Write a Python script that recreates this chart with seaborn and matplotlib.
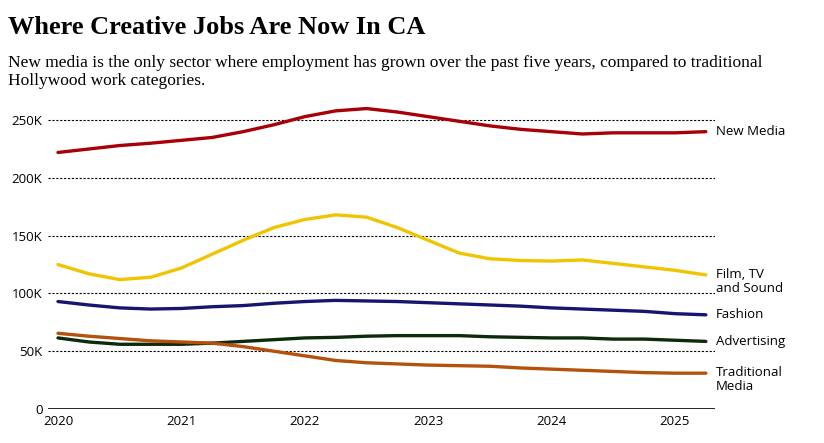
import numpy as np
import pandas as pd
import matplotlib
matplotlib.use('Agg')
import matplotlib.pyplot as plt
import seaborn as sns

# quarterly points, 2020 Q1 .. 2025 Q2
quarters = [2020 + i * 0.25 for i in range(22)]

new_media = [222, 225, 228, 230, 232.5, 235, 240, 246, 253, 258, 260, 257,
             253, 249, 245, 242, 240, 238, 239, 239, 239, 240]
film_tv = [125, 117, 112, 114, 122, 134, 146, 157, 164, 168, 166, 157,
           146, 135, 130, 128.5, 128, 129, 126, 123, 120, 116]
fashion = [93, 90, 87.5, 86.5, 87, 88.5, 89.5, 91.5, 93, 94, 93.5, 93,
           92, 91, 90, 89, 87.5, 86.5, 85.5, 84.5, 82.5, 81.5]
advertising = [61.5, 58, 56, 56, 56, 57, 58.5, 60, 61.5, 62, 63, 63.5,
               63.5, 63.5, 62.5, 62, 61.5, 61.5, 60.5, 60.5, 59.5, 58.5]
traditional = [65.5, 63, 61, 59, 58, 57, 54, 50, 46, 42, 40, 39,
               38, 37.5, 37, 35.5, 34.5, 33.5, 32.5, 31.5, 31, 31]

series_names = ['New Media', 'Film, TV\nand Sound', 'Fashion', 'Advertising', 'Traditional\nMedia']
series_values = [new_media, film_tv, fashion, advertising, traditional]
colors = ['#a80008', '#f0c400', '#17166e', '#0c2a0c', '#b4510c']

year_ticks = [2020, 2021, 2022, 2023, 2024, 2025]
y_ticks = [0, 50000, 100000, 150000, 200000, 250000]
y_tick_labels = ['0', '50K', '100K', '150K', '200K', '250K']

rows = []
for name, vals in zip(series_names, series_values):
    for q, v in zip(quarters, vals):
        rows.append({'quarter': q, 'jobs': v * 1000, 'sector': name})
df = pd.DataFrame(rows)

sns.set_style('white')
plt.rcParams['font.family'] = ['Open Sans', 'DejaVu Sans']
plt.rcParams['text.color'] = 'black'
plt.rcParams['xtick.color'] = 'black'
plt.rcParams['ytick.color'] = 'black'

fig = plt.figure(figsize=(8.24, 4.43), dpi=100)
ax = fig.add_axes([48 / 824, 1 - 409 / 443, 667 / 824, 312 / 443])

sns.lineplot(data=df, x='quarter', y='jobs', hue='sector', palette=colors,
             linewidth=2.4, legend=False, ax=ax, zorder=3)

ax.set_xlim(2020 - 10 / 123.4, 2020 + 657 / 123.4)
ax.set_ylim(0, 270000)
ax.set_yticks(y_ticks)
ax.set_yticklabels(y_tick_labels, fontsize=9.5)
ax.set_xticks(year_ticks)
ax.set_xticklabels([str(y) for y in year_ticks], fontsize=9.5)
ax.tick_params(axis='both', length=0, pad=4, colors='black')
ax.set_xlabel('')
ax.set_ylabel('')
for side in ['top', 'right', 'left', 'bottom']:
    ax.spines[side].set_visible(False)

for t in y_ticks[1:]:
    ax.axhline(t, color='black', linewidth=0.8, linestyle=(0, (2, 1.5)), zorder=1)
ax.axhline(0, color='black', linewidth=1.2, zorder=1)

# end labels
for name, vals in zip(series_names, series_values):
    two_lines = '\n' in name
    ax.annotate(name, xy=(quarters[-1], vals[-1] * 1000), xytext=(7, 5 if two_lines else 0),
                textcoords='offset points', va='top' if two_lines else 'center',
                ha='left', fontsize=9.5, linespacing=1.1, color='black', annotation_clip=False)

fig.text(8 / 824, 1 - 27 / 443, 'Where Creative Jobs Are Now In CA',
         family='Liberation Serif', fontweight='bold', fontsize=19, va='center', color='black')
fig.text(8 / 824, 1 - 72 / 443,
         'New media is the only sector where employment has grown over the past five years, compared to traditional\nHollywood work categories.',
         family='Liberation Serif', fontsize=12.5, va='center', linespacing=1.15, color='black')

plt.savefig('out.png', dpi=100)
